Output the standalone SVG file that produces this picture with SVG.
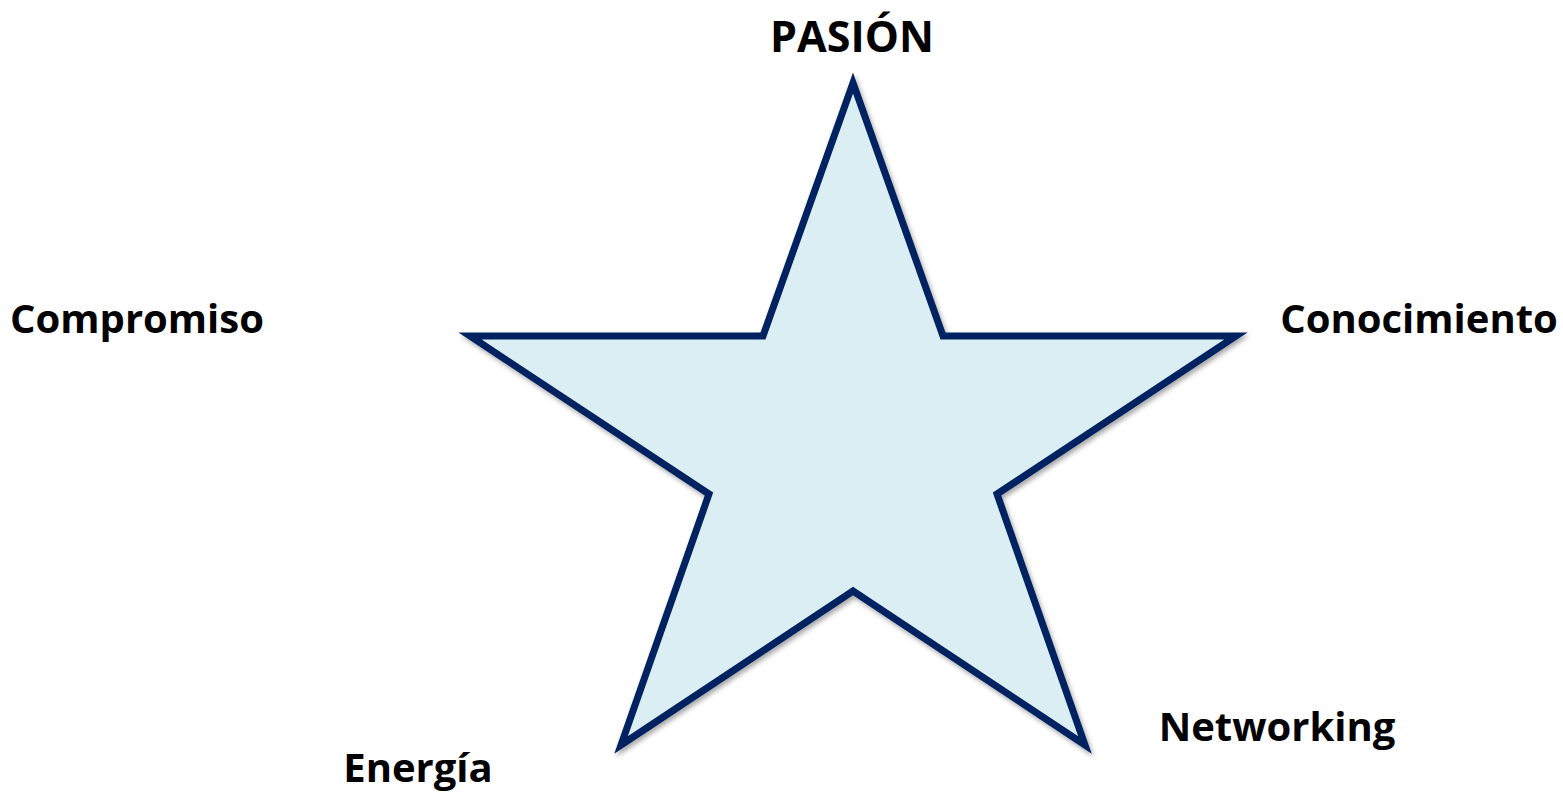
<svg xmlns="http://www.w3.org/2000/svg" width="1563" height="794" viewBox="0 0 1563 794">
<style>
.lbl{font-family:"Open Sans","Liberation Sans",sans-serif;font-weight:bold;font-size:40px;fill:#000}
.star{fill:#DAEEF3;stroke:#002060;stroke-width:7;stroke-linejoin:miter}
</style>
<defs>
<filter id="sh" x="-10%" y="-10%" width="120%" height="120%">
<feDropShadow dx="2" dy="3" stdDeviation="2.5" flood-color="#000" flood-opacity="0.35"/>
</filter>
</defs>
<g id="star">
<polygon class="star" filter="url(#sh)" points="853,83 943,336 1236,336 997,494 1085,745 853,591 621,745 709,494 470,336 763,336"/>
</g>
<g id="pasion"><text class="lbl" x="852" y="52" text-anchor="middle" style="font-size:43px">PASIÓN</text></g>
<g id="compromiso"><text class="lbl" x="137" y="333" text-anchor="middle">Compromiso</text></g>
<g id="conocimiento"><text class="lbl" x="1419" y="333" text-anchor="middle">Conocimiento</text></g>
<g id="networking"><text class="lbl" x="1277" y="741" text-anchor="middle">Networking</text></g>
<g id="energia"><text class="lbl" x="418" y="782" text-anchor="middle">Energía</text></g>
</svg>
